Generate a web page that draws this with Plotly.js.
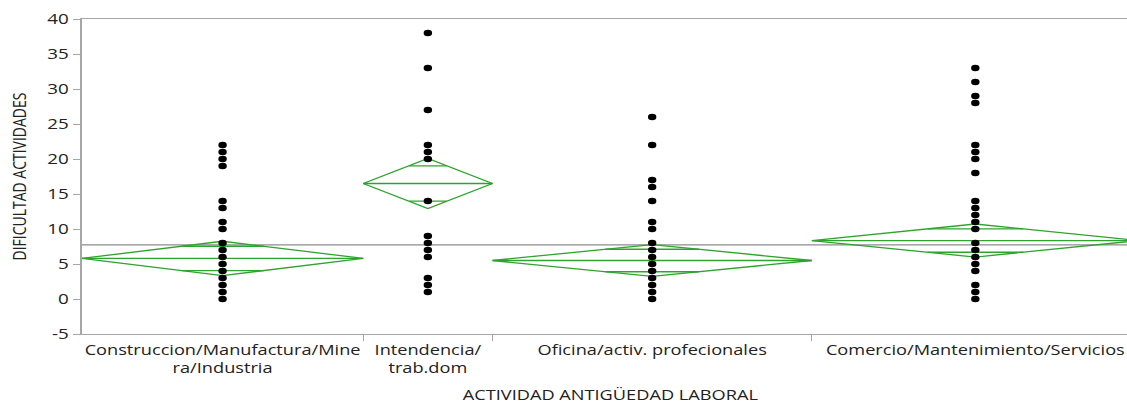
<!DOCTYPE html>
<html>
<head>
<meta charset="utf-8">
<script src="https://cdn.plot.ly/plotly-3.0.1.min.js"></script>
<style>
  html, body { margin: 0; padding: 0; overflow: hidden; background: #fff; }
  #chart { transform: scaleX(1.3); transform-origin: 0 0; }
</style>
</head>
<body>
<div id="chart"></div>
<script>
// Groups on the x axis (widths proportional to group size)
const categories = [
  'Construccion/Manufactura/Mine<br>ra/Industria',
  'Intendencia/<br>trab.dom',
  'Oficina/activ. profecionales',
  'Comercio/Mantenimiento/Servicios'
];
const groupSizes = [37, 17, 42, 43];

// Observed scores per group (distinct values; repeats stack on one dot)
const valuesConstruccion = [0, 1, 2, 3, 4, 5, 6, 7, 8, 10, 11, 13, 14, 19, 20, 21, 22];
const valuesIntendencia = [1, 2, 3, 6, 7, 8, 9, 14, 20, 21, 22, 27, 33, 38];
const valuesOficina = [0, 1, 2, 3, 4, 5, 6, 7, 8, 10, 11, 14, 16, 17, 22, 26];
const valuesComercio = [0, 1, 2, 4, 5, 6, 7, 8, 10, 11, 12, 13, 14, 18, 20, 21, 22, 28, 29, 31, 33];

// Means diamonds: group mean and 95% CI half-width
const groupMeans = [5.8, 16.5, 5.5, 8.35];
const ciHalfWidths = [2.45, 3.57, 2.27, 2.36];
const grandMean = 7.72;

// Y axis ticks
const yTickValues = [-5, 0, 5, 10, 15, 20, 25, 30, 35, 40];
const yTickLabels = ['-5', '0', '5', '10', '15', '20', '25', '30', '35', '40'];

const groupValues = [valuesConstruccion, valuesIntendencia, valuesOficina, valuesComercio];

// cumulative group boundaries along x
const bounds = [0];
groupSizes.forEach(n => bounds.push(bounds[bounds.length - 1] + n));
const total = bounds[bounds.length - 1];
const centers = groupSizes.map((n, i) => (bounds[i] + bounds[i + 1]) / 2);

const GREEN = '#2ea32e';
const AXIS = '#a6a6a6';
const TEXT = '#222222';
const FONT = '"Open Sans", "Noto Sans", sans-serif';

const traces = [];

// overall mean reference line
traces.push({
  type: 'scatter', mode: 'lines',
  x: [0, total], y: [grandMean, grandMean],
  line: { color: '#8c8c8c', width: 1.2 },
  hoverinfo: 'skip', showlegend: false
});

// means diamonds with overlap marks
groupMeans.forEach((m, i) => {
  const L = bounds[i], R = bounds[i + 1], c = centers[i], h = ciHalfWidths[i];
  const d = h / Math.SQRT2;
  const w = (R - L) / 2 * (1 - 1 / Math.SQRT2);
  traces.push({
    type: 'scatter', mode: 'lines',
    x: [L, c, R, c, L, null, L, R, null, c - w, c + w, null, c - w, c + w],
    y: [m, m + h, m, m - h, m, null, m, m, null, m + d, m + d, null, m - d, m - d],
    line: { color: GREEN, width: 1.3 },
    hoverinfo: 'skip', showlegend: false
  });
});

// individual observations
groupValues.forEach((vals, i) => {
  traces.push({
    type: 'scatter', mode: 'markers',
    x: vals.map(() => centers[i]), y: vals,
    marker: { color: '#000', size: 6.5 },
    hoverinfo: 'skip', showlegend: false
  });
});

// carrier for the category label axis
traces.push({
  type: 'scatter', mode: 'markers', xaxis: 'x2', yaxis: 'y',
  x: centers, y: centers.map(() => null),
  hoverinfo: 'skip', showlegend: false
});

const layout = {
  width: 876, height: 405,
  margin: { l: 63, r: 0, t: 19, b: 71 },
  paper_bgcolor: '#fff', plot_bgcolor: '#fff',
  font: { family: FONT, color: TEXT },
  showlegend: false,
  xaxis: {
    range: [0, total],
    tickmode: 'array', tickvals: bounds.slice(1, -1),
    ticks: 'outside', ticklen: 6, tickcolor: AXIS, tickwidth: 1,
    showticklabels: false,
    showline: true, linecolor: AXIS, linewidth: 1.2, mirror: true,
    showgrid: false, zeroline: false, fixedrange: true
  },
  xaxis2: {
    overlaying: 'x', side: 'bottom', anchor: 'y',
    range: [0, total],
    tickmode: 'array', tickvals: centers, ticktext: categories,
    ticks: '', showline: false, showgrid: false, zeroline: false,
    ticklabelstandoff: 6,
    tickfont: { size: 14, color: TEXT, family: FONT },
    title: { text: 'ACTIVIDAD ANTIGÜEDAD LABORAL', font: { size: 14, color: TEXT, family: FONT }, standoff: 14 },
    fixedrange: true
  },
  yaxis: {
    range: [-5, 40],
    tickmode: 'array', tickvals: yTickValues, ticktext: yTickLabels,
    ticks: 'outside', ticklen: 6, tickcolor: AXIS, tickwidth: 1,
    tickfont: { size: 14.5, color: TEXT, family: FONT },
    showline: true, linecolor: AXIS, linewidth: 1.2, mirror: true,
    showgrid: false, zeroline: false, fixedrange: true,
    title: { text: 'DIFICULTAD ACTIVIDADES', font: { size: 14, color: TEXT, family: FONT }, standoff: 12 }
  }
};

Plotly.newPlot('chart', traces, layout, { staticPlot: true, displayModeBar: false });
</script>
</body>
</html>
